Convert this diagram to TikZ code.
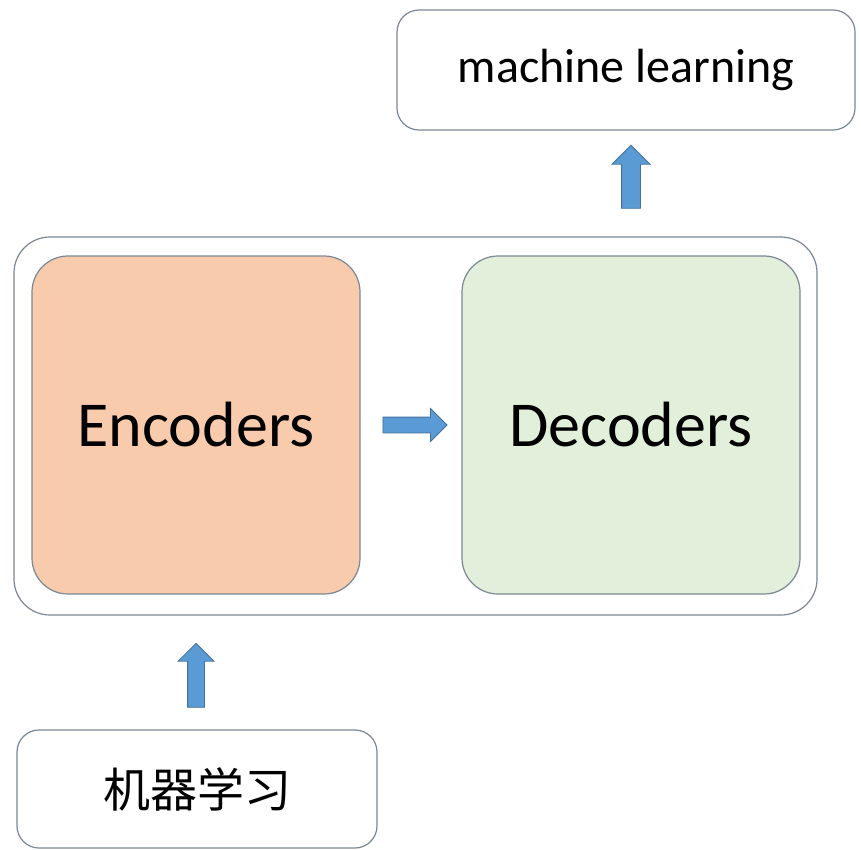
\documentclass[tikz,border=0pt]{standalone}
\usepackage{fontspec}
\setmainfont{Carlito}
\newfontfamily\cjk{Noto Sans CJK SC}
\usetikzlibrary{shapes.arrows,calc}
\definecolor{edge}{HTML}{7A8794}
\definecolor{encfill}{HTML}{F8CBAD}
\definecolor{decfill}{HTML}{E2EFDA}
\definecolor{arrowfill}{HTML}{5B9BD5}
\definecolor{arrowedge}{HTML}{41719C}
\tikzset{
  box/.style={draw=edge, line width=1.2pt, rounded corners=22pt, fill=white},
  block/.style={draw=edge, line width=1.2pt, rounded corners=36pt},
  blockarrow/.style={single arrow, draw=arrowedge, fill=arrowfill, line width=0.8pt,
    inner sep=0pt, single arrow head extend=#1, anchor=center},
}
\begin{document}
\begin{tikzpicture}[x=1pt,y=-1pt]
  \useasboundingbox[fill=white] (0,0) rectangle (861,849);
  % output label
  \node[box, minimum width=458pt, minimum height=120pt] (ml) at (626,70)
    {\fontsize{48pt}{52pt}\selectfont machine learning};
  % encoder/decoder container
  \node[block, minimum width=803pt, minimum height=378pt] (model) at (415.5,426) {};
  \node[block, fill=encfill, minimum width=328pt, minimum height=338pt] (enc) at (196,425)
    {\fontsize{64pt}{68pt}\selectfont Encoders};
  \node[block, fill=decfill, minimum width=338pt, minimum height=338pt] (dec) at (631,425)
    {\fontsize{64pt}{68pt}\selectfont Decoders};
  % input label
  \node[box, minimum width=360pt, minimum height=118pt] (in) at (197,789)
    {\cjk\fontsize{47pt}{51pt}\selectfont 机器学习};
  % block arrows between the parts
  \node[blockarrow=8.5pt, minimum height=64pt, minimum width=32pt, inner ysep=7.5pt]
    (a1) at ($(enc.east)!0.5!(dec.west)$) {};
  \node[blockarrow=9.5pt, minimum height=63pt, minimum width=37pt, inner ysep=9pt,
    rotate=90] (a2) at (631,181.5) {};
  \node[blockarrow=9.5pt, minimum height=64pt, minimum width=35pt, inner ysep=8pt,
    rotate=90] (a3) at (196,679.5) {};
\end{tikzpicture}
\end{document}
